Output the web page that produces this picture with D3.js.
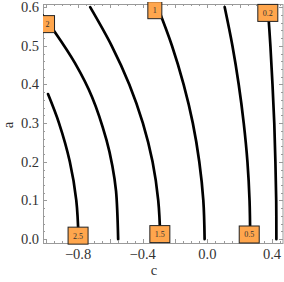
<!DOCTYPE html>
<html>
<head>
<meta charset="utf-8">
<script src="https://cdn.jsdelivr.net/npm/d3@7"></script>
<style>
  body { margin: 0; background: #fff; }
  svg { display: block; }
  .tick-label { font-family: "Liberation Serif", serif; font-size: 14.5px; fill: #333; }
  .axis-title { font-family: "Liberation Serif", serif; font-size: 14.5px; fill: #333; }
  .clabel { font-family: "Liberation Serif", serif; font-size: 8px; fill: #333; }
</style>
</head>
<body>
<svg id="chart" width="284" height="282"></svg>
<script>
// contour levels and their traced paths, [c, a] pairs
var levels = [2.5, 2, 1.5, 1, 0.5, 0.2];

var line25 = [[-0.986, 0.375], [-0.918, 0.3], [-0.851, 0.2], [-0.811, 0.1], [-0.797, 0.0]];
var line2  = [[-1.022, 0.58], [-0.943, 0.535], [-0.819, 0.455], [-0.713, 0.367], [-0.624, 0.256], [-0.588, 0.19], [-0.565, 0.124], [-0.552, 0.0]];
var line15 = [[-0.725, 0.6], [-0.592, 0.5], [-0.483, 0.4], [-0.399, 0.3], [-0.339, 0.2], [-0.304, 0.1], [-0.291, 0.0]];
var line1  = [[-0.308, 0.6], [-0.219, 0.5], [-0.147, 0.4], [-0.090, 0.3], [-0.050, 0.2], [-0.025, 0.1], [-0.017, 0.0]];
var line05 = [[0.107, 0.6], [0.155, 0.5], [0.194, 0.4], [0.225, 0.3], [0.248, 0.2], [0.261, 0.1], [0.265, 0.0]];
var line02 = [[0.374, 0.6], [0.390, 0.5], [0.403, 0.4], [0.414, 0.3], [0.421, 0.2], [0.426, 0.1], [0.427, 0.0]];
var contourLines = [line25, line2, line15, line1, line05, line02];

// where each level's label sits
var labelNames = ["2.5", "2", "1.5", "1", "0.5", "0.2"];
var labelPos = [[-0.800, 0.009], [-0.989, 0.556], [-0.294, 0.013], [-0.325, 0.592], [0.259, 0.012], [0.374, 0.585]];

var xTicks = [-0.8, -0.4, 0.0, 0.4];
var yTicks = [0.0, 0.1, 0.2, 0.3, 0.4, 0.5, 0.6];

var svg = d3.select('#chart');

var x = d3.scaleLinear().domain([-1.017, 0.468]).range([43, 283]);
var y = d3.scaleLinear().domain([-0.01, 0.608]).range([243, 4]);

var x0 = x.range()[0], x1 = x.range()[1];
var y0 = y.range()[0], y1 = y.range()[1];

svg.append('clipPath').attr('id', 'plotclip')
  .append('rect')
  .attr('x', x0).attr('y', y1 - 2)
  .attr('width', x1 - x0).attr('height', y0 - y1 + 4);

// frame ticks
var frameColor = '#9a9a9a';
var ticks = svg.append('g').attr('stroke', frameColor).attr('stroke-width', 1);

var xMinor = d3.range(-1.0, 0.4501, 0.05);
xMinor.forEach(function(v) {
  var big = Math.abs(Math.round(v * 10) / 10 - v) < 1e-6 && Math.abs((Math.round(v * 10) % 2)) === 0;
  var len = big ? 4 : 2;
  var px = Math.round(x(v)) + 0.5;
  ticks.append('line').attr('x1', px).attr('x2', px).attr('y1', y0).attr('y2', y0 - len);
  ticks.append('line').attr('x1', px).attr('x2', px).attr('y1', y1).attr('y2', y1 + len);
});

var yMinor = d3.range(0, 0.6001, 0.02);
yMinor.forEach(function(v) {
  var big = Math.abs(Math.round(v * 10) / 10 - v) < 1e-6;
  var len = big ? 4 : 2;
  var py = Math.round(y(v)) + 0.5;
  ticks.append('line').attr('y1', py).attr('y2', py).attr('x1', x0).attr('x2', x0 + len);
  ticks.append('line').attr('y1', py).attr('y2', py).attr('x1', x1).attr('x2', x1 - len);
});

// frame
svg.append('rect')
  .attr('x', x0 + 0.5).attr('y', y1 + 0.5)
  .attr('width', x1 - x0 - 1 + 0.5).attr('height', y0 - y1)
  .attr('fill', 'none').attr('stroke', frameColor).attr('stroke-width', 1);

// tick labels
svg.selectAll('.xlab').data(xTicks).enter().append('text')
  .attr('class', 'tick-label')
  .attr('x', function(d) { return x(d); })
  .attr('y', 259)
  .attr('text-anchor', 'middle')
  .text(function(d) { return d === 0 ? '0.0' : (d < 0 ? '\u2212' + Math.abs(d).toFixed(1) : d.toFixed(1)); });

svg.selectAll('.ylab').data(yTicks).enter().append('text')
  .attr('class', 'tick-label')
  .attr('x', 39)
  .attr('y', function(d) { return y(d) + 5; })
  .attr('text-anchor', 'end')
  .text(function(d) { return d.toFixed(1); });

svg.append('text').attr('class', 'axis-title')
  .attr('x', 154).attr('y', 275).attr('text-anchor', 'middle').text('c');

svg.append('text').attr('class', 'axis-title')
  .attr('transform', 'translate(13,125) rotate(-90)')
  .attr('text-anchor', 'middle').text('a');

// contour curves
var plot = svg.append('g').attr('clip-path', 'url(#plotclip)');

var path = d3.line()
  .x(function(d) { return x(d[0]); })
  .y(function(d) { return y(d[1]); })
  .curve(d3.curveCatmullRom);

plot.selectAll('.contour').data(contourLines).enter().append('path')
  .attr('class', 'contour')
  .attr('d', path)
  .attr('fill', 'none')
  .attr('stroke', '#000')
  .attr('stroke-width', 2.7)
  .attr('stroke-linecap', 'round');

// level labels
var labels = plot.selectAll('.lab').data(labelNames).enter().append('g')
  .attr('transform', function(d, i) {
    return 'translate(' + x(labelPos[i][0]) + ',' + y(labelPos[i][1]) + ')';
  });

labels.each(function(d) {
  var g = d3.select(this);
  var t = g.append('text').attr('class', 'clabel')
    .attr('text-anchor', 'middle').attr('y', 3).text(d);
  var w = t.node().getComputedTextLength() + 10;
  g.insert('rect', 'text')
    .attr('x', -w / 2).attr('y', -8.5)
    .attr('width', w).attr('height', 17)
    .attr('fill', '#ffa64d')
    .attr('stroke', '#222').attr('stroke-width', 1);
});
</script>
</body>
</html>
